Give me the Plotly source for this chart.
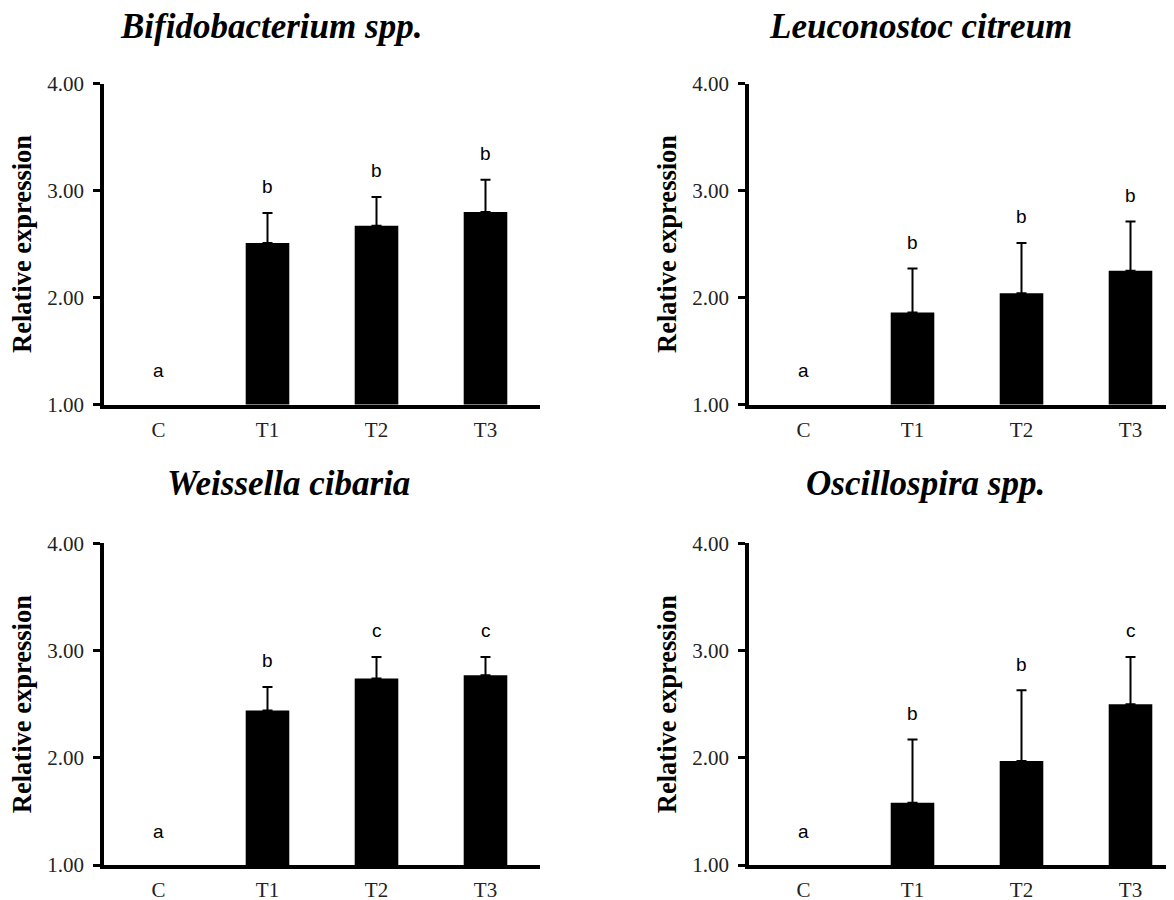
import plotly.graph_objects as go

# ---------------- data ----------------
categories = ["C", "T1", "T2", "T3"]

titles = ["Bifidobacterium spp.", "Leuconostoc citreum",
          "Weissella cibaria", "Oscillospira spp."]

bifido_mean = [1.00, 2.51, 2.67, 2.80]
bifido_sd = [0.00, 0.28, 0.27, 0.30]
bifido_letters = ["a", "b", "b", "b"]

leuco_mean = [1.00, 1.86, 2.04, 2.25]
leuco_sd = [0.00, 0.41, 0.47, 0.46]
leuco_letters = ["a", "b", "b", "b"]

weiss_mean = [1.00, 2.44, 2.74, 2.77]
weiss_sd = [0.00, 0.22, 0.20, 0.17]
weiss_letters = ["a", "b", "c", "c"]

oscil_mean = [1.00, 1.58, 1.97, 2.50]
oscil_sd = [0.00, 0.59, 0.66, 0.44]
oscil_letters = ["a", "b", "b", "c"]

y_tick_vals = [1, 2, 3, 4]
y_tick_text = ["1.00", "2.00", "3.00", "4.00"]
y_title = "Relative expression"

# ---------------- layout helpers ----------------
W, H = 1174, 900
OFF = 8  # page body margin in the browser
SERIF = "Liberation Serif, Times New Roman, serif"
SANS = "Liberation Sans, Arial, sans-serif"

series = [
    (bifido_mean, bifido_sd, bifido_letters),
    (leuco_mean, leuco_sd, leuco_letters),
    (weiss_mean, weiss_sd, weiss_letters),
    (oscil_mean, oscil_sd, oscil_letters),
]

# pixel boxes of each panel's plotting area (page coordinates)
CAT_PX = 109.0
panels = [
    dict(x0=104, x1=540, y0=83.5, y1=404.5, tx=271, ty=26),
    dict(x0=749, x1=1182, y0=83.5, y1=404.5, tx=920, ty=26),
    dict(x0=104, x1=540, y0=543.3, y1=865, tx=288, ty=484),
    dict(x0=749, x1=1182, y0=543.3, y1=865, tx=925, ty=484),
]


def fx(px):
    return (px - OFF) / W


def fy(py):
    return 1 - (py - OFF) / H


fig = go.Figure()
annotations = []
layout_axes = {}

for i, ((mean, sd, letters), p, title) in enumerate(zip(series, panels, titles)):
    n = i + 1
    xa = "x" if n == 1 else f"x{n}"
    ya = "y" if n == 1 else f"y{n}"
    xkey = "xaxis" if n == 1 else f"xaxis{n}"
    ykey = "yaxis" if n == 1 else f"yaxis{n}"

    fig.add_trace(go.Bar(
        x=categories, y=mean, width=0.4,
        marker=dict(color="black", line=dict(width=0)),
        xaxis=xa, yaxis=ya, showlegend=False, hoverinfo="skip",
    ))
    # upward error bars only where there is a deviation
    err_x = [c for c, s in zip(categories, sd) if s > 0]
    err_y = [m for m, s in zip(mean, sd) if s > 0]
    err_s = [s for s in sd if s > 0]
    fig.add_trace(go.Scatter(
        x=err_x, y=err_y, mode="markers",
        marker=dict(size=1, color="rgba(0,0,0,0)"),
        error_y=dict(type="data", array=err_s, arrayminus=[0] * len(err_s),
                     symmetric=False, color="black", thickness=2, width=5),
        xaxis=xa, yaxis=ya, showlegend=False, hoverinfo="skip",
    ))

    xmax = -0.5 + (p["x1"] - p["x0"]) / CAT_PX
    layout_axes[xkey] = dict(
        domain=[fx(p["x0"]), min(fx(p["x1"]), 1.0)],
        anchor=ya, type="category", categoryorder="array",
        categoryarray=categories, range=[-0.5, xmax],
        showline=True, linewidth=4, linecolor="black",
        ticks="", showgrid=False, zeroline=False, automargin=False,
        tickfont=dict(family=SERIF, size=21, color="#222"),
        ticklabelstandoff=3, fixedrange=True,
    )
    layout_axes[ykey] = dict(
        domain=[fy(p["y1"]), fy(p["y0"])],
        anchor=xa, range=[1, 4],
        tickvals=y_tick_vals, ticktext=y_tick_text,
        ticks="outside", ticklen=7, tickwidth=3, tickcolor="black",
        showline=True, linewidth=3.5, linecolor="black",
        showgrid=False, zeroline=False, automargin=False,
        tickfont=dict(family=SERIF, size=21, color="#222"),
        ticklabelstandoff=5, fixedrange=True,
    )

    # significance letters
    for c, m, s, lt in zip(categories, mean, sd, letters):
        annotations.append(dict(
            x=c, y=m + s, xref=xa, yref=ya, text=lt, showarrow=False,
            yanchor="middle", yshift=34 if s == 0 else 26,
            font=dict(family=SANS, size=19, color="black"),
        ))

    # panel title
    annotations.append(dict(
        x=fx(p["tx"]), y=fy(p["ty"]), xref="paper", yref="paper",
        text=f"<b><i>{title}</i></b>", showarrow=False,
        xanchor="center", yanchor="middle",
        font=dict(family=SERIF, size=35, color="black"),
    ))

    # y-axis title
    annotations.append(dict(
        x=fx(p["x0"] - 82), y=fy((p["y0"] + p["y1"]) / 2),
        xref="paper", yref="paper", text=f"<b>{y_title}</b>",
        showarrow=False, textangle=-90, xanchor="center", yanchor="middle",
        font=dict(family=SERIF, size=26.5, color="black"),
    ))

fig.update_layout(
    width=W, height=H,
    margin=dict(l=0, r=0, t=0, b=0, autoexpand=False),
    paper_bgcolor="white", plot_bgcolor="white",
    annotations=annotations,
    bargap=0.6,
    **layout_axes,
)

fig.write_html("out.html")
